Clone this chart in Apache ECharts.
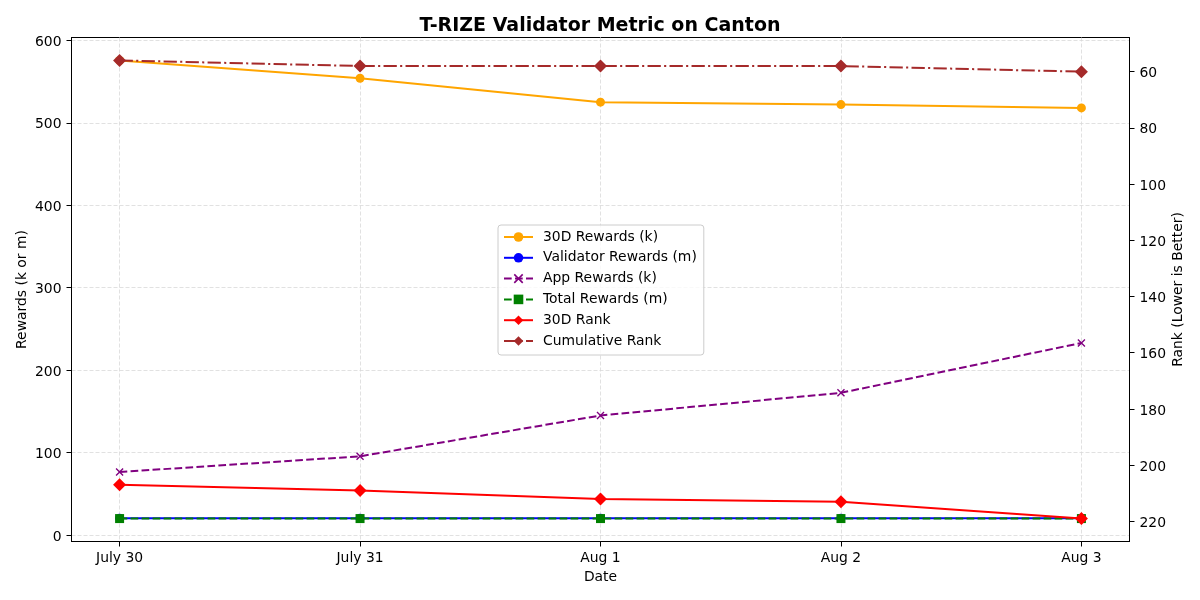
<!DOCTYPE html>
<html><head><meta charset="utf-8">
<script src="https://cdn.jsdelivr.net/npm/echarts@6/dist/echarts.min.js"></script>
<style>html,body{margin:0;padding:0;background:#fff}#c{width:1200px;height:600px}</style>
</head><body><div id="c"></div>
<script>
const categories = ['July 30', 'July 31', 'Aug 1', 'Aug 2', 'Aug 3'];
const rewards30d = [575.5, 554, 525, 522, 518];
const validatorRewards = [20.5, 20.5, 20.5, 20.5, 20.5];
const appRewards = [76.5, 95.5, 145, 172.5, 233];
const totalRewards = [20, 20, 20, 20, 20];
const rank30d = [207, 209, 212, 213, 219];
const cumulativeRank = [56, 58, 58, 58, 60];
const xTicks = [0, 1, 2, 3, 4];
const leftTicks = [0, 100, 200, 300, 400, 500, 600];
const rightTicks = [60, 80, 100, 120, 140, 160, 180, 200, 220];

const FONT = 'DejaVu Sans';
const pts = arr => arr.map((v, i) => [i, v]);
const xPath = 'path://M0,1.2L1.2,0L5,3.8L8.8,0L10,1.2L6.2,5L10,8.8L8.8,10L5,6.2L1.2,10L0,8.8L3.8,5Z';
const dash = [7.7, 3.3];
const dashDot = [13.3, 3.3, 2.1, 3.3];

function mk(name, data, color, symbol, size, lineType, yIdx) {
  return {
    name, type: 'line', data: pts(data), yAxisIndex: yIdx,
    symbol, symbolSize: size, showSymbol: true,
    lineStyle: { color, width: 2, type: lineType },
    itemStyle: { color, borderWidth: 0 },
    emphasis: { disabled: true }, animation: false
  };
}

const yLabel = { margin: 10, fontFamily: FONT, fontSize: 13.9, color: '#000',
  formatter: v => '{a|' + v + '}', rich: { a: { fontFamily: FONT, fontSize: 13.9, color: '#000', padding: [4, 0, 0, 0] } } };

const chart = echarts.init(document.getElementById('c'));
chart.setOption({
  backgroundColor: '#fff',
  animation: false,
  textStyle: { fontFamily: FONT },
  title: {
    text: 'T-RIZE Validator Metric on Canton', left: 'center', top: 17, padding: 0,
    textStyle: { fontFamily: FONT, fontSize: 19, fontWeight: 'bold', color: '#000' }
  },
  grid: { left: 71.5, top: 37.5, width: 1058, height: 504, show: true, borderColor: '#000', borderWidth: 1, containLabel: false },
  legend: {
    orient: 'vertical', left: 498, top: 225, padding: [5, 7, 7, 5],
    itemGap: 6.8, itemWidth: 29, itemHeight: 12,
    backgroundColor: 'rgba(255,255,255,0.8)', borderColor: '#cccccc', borderWidth: 1, borderRadius: 3,
    textStyle: { fontFamily: FONT, fontSize: 13.9, lineHeight: 14, color: '#000', padding: [0, 0, 0, 5] },
    data: ['30D Rewards (k)', 'Validator Rewards (m)', 'App Rewards (k)', 'Total Rewards (m)', '30D Rank', 'Cumulative Rank']
  },
  xAxis: {
    type: 'value', min: -0.2, max: 4.2,
    name: 'Date', nameLocation: 'middle', nameGap: 29, nameMoveOverlap: false,
    nameTextStyle: { fontFamily: FONT, fontSize: 13.9, color: '#000' },
    axisLine: { show: true, onZero: false, lineStyle: { color: '#000', width: 1 } },
    axisTick: { show: true, length: 5, lineStyle: { color: '#000' }, customValues: xTicks },
    axisLabel: { customValues: xTicks, margin: 10, fontFamily: FONT, fontSize: 13.9, color: '#000',
      formatter: v => categories[Math.round(v)] || '' },
    splitLine: { show: true, lineStyle: { color: '#d9d9d9', type: [4, 2], width: 0.8 } }
  },
  yAxis: [
    {
      type: 'value', position: 'left', min: -7.8, max: 603.4,
      name: 'Rewards (k or m)', nameLocation: 'middle', nameGap: 42, nameRotate: 90, nameMoveOverlap: false,
      nameTextStyle: { fontFamily: FONT, fontSize: 13.9, color: '#000' },
      axisLine: { show: true, onZero: false, lineStyle: { color: '#000', width: 1 } },
      axisTick: { show: true, length: 5, lineStyle: { color: '#000' }, customValues: leftTicks },
      axisLabel: Object.assign({ customValues: leftTicks }, yLabel),
      splitLine: { show: true, lineStyle: { color: '#d9d9d9', type: [4, 2], width: 0.8 } }
    },
    {
      type: 'value', position: 'right', inverse: true, min: 47.85, max: 227.15,
      name: 'Rank (Lower is Better)', nameLocation: 'middle', nameGap: 42, nameRotate: 90, nameMoveOverlap: false,
      nameTextStyle: { fontFamily: FONT, fontSize: 13.9, color: '#000' },
      axisLine: { show: true, onZero: false, lineStyle: { color: '#000', width: 1 } },
      axisTick: { show: true, length: 5, lineStyle: { color: '#000' }, customValues: rightTicks },
      axisLabel: Object.assign({ customValues: rightTicks }, yLabel),
      splitLine: { show: false }
    }
  ],
  series: [
    mk('30D Rewards (k)', rewards30d, '#FFA500', 'circle', 9, 'solid', 0),
    mk('Validator Rewards (m)', validatorRewards, '#0000FF', 'circle', 9, 'solid', 0),
    mk('App Rewards (k)', appRewards, '#800080', xPath, 8, dash, 0),
    mk('Total Rewards (m)', totalRewards, '#008000', 'rect', 9, dash, 0),
    mk('30D Rank', rank30d, '#FF0000', 'diamond', 13, 'solid', 1),
    mk('Cumulative Rank', cumulativeRank, '#A52A2A', 'diamond', 13, dashDot, 1)
  ]
});
</script>
</body></html>
